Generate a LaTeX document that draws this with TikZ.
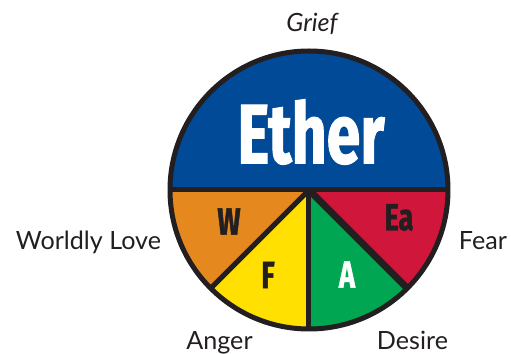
\documentclass[tikz,border=0pt]{standalone}
\usepackage{fontspec}
\setmainfont{Lato}
\newfontfamily\condfont[FakeStretch=0.72, FakeBold=1.2]{Fira Sans}
\usepackage{xcolor}
\usepackage{tikz}
\usetikzlibrary{positioning,calc}
\definecolor{etherblue}{RGB}{0,74,152}
\definecolor{waterorange}{RGB}{229,137,31}
\definecolor{earthred}{RGB}{208,22,58}
\definecolor{airgreen}{RGB}{0,166,81}
\definecolor{fireyellow}{RGB}{255,224,0}
\definecolor{rimdark}{RGB}{35,31,32}

\begin{document}
\begin{tikzpicture}[
  x=0.2mm, y=0.2mm,
  rim/.style={draw=rimdark, line width=5*0.2mm, line join=round},
  spoke/.style={draw=rimdark, line width=5*0.2mm},
  emotion/.style={inner sep=0pt, anchor=base, text=rimdark, font=\fontsize{14.3}{16}\selectfont},
  elem/.style={inner sep=0pt, font=\condfont\bfseries\fontsize{21.5}{24}\selectfont}
]
  \useasboundingbox (0,0) rectangle (511,354);
  \coordinate (c) at (309,164);
  \coordinate (e0) at ($(c)+(0:139)$);
  \coordinate (e180) at ($(c)+(180:139)$);
  \coordinate (e225) at ($(c)+(225:139)$);
  \coordinate (e270) at ($(c)+(270:139)$);
  \coordinate (e315) at ($(c)+(315:139)$);

  % sectors
  \fill[etherblue] (e180) arc[start angle=180, end angle=0, radius=139] -- cycle;
  \fill[waterorange] (c) -- (e180) arc[start angle=180, end angle=225, radius=139] -- cycle;
  \fill[fireyellow] (c) -- (e225) arc[start angle=225, end angle=270, radius=139] -- cycle;
  \fill[airgreen] (c) -- (e270) arc[start angle=270, end angle=315, radius=139] -- cycle;
  \fill[earthred] (c) -- (e315) arc[start angle=315, end angle=360, radius=139] -- cycle;

  \draw[spoke] (e180) -- (e0);
  \draw[spoke] (c) -- (e225);
  \draw[spoke] (c) -- (e270);
  \draw[spoke, line width=7*0.2mm] (c) -- (e315);
  \draw[rim] (c) circle[radius=139];

  \node[inner sep=0pt, text=white] (ether) at (311,222)
    {\condfont\bfseries\fontsize{48}{50}\selectfont Ether};
  \node[elem, text=rimdark] (w) at (229,132.5) {W};
  \node[elem, text=rimdark] (ea) at (399,136.5) {Ea};
  \node[elem, text=rimdark] (f) at (268,79) {F};
  \node[elem, text=white] (a) at (347,79.5) {A};

  \node[emotion, font=\fontsize{14.3}{16}\selectfont\itshape] (grief) at (312,322) {Grief};
  \node[emotion] (worldly) at (88.5,104) {Worldly Love};
  \node[emotion] (fear) at (483,104) {Fear};
  \node[emotion] (anger) at (219.5,4) {Anger};
  \node[emotion] (desire) at (412.5,4) {Desire};
\end{tikzpicture}
\end{document}
